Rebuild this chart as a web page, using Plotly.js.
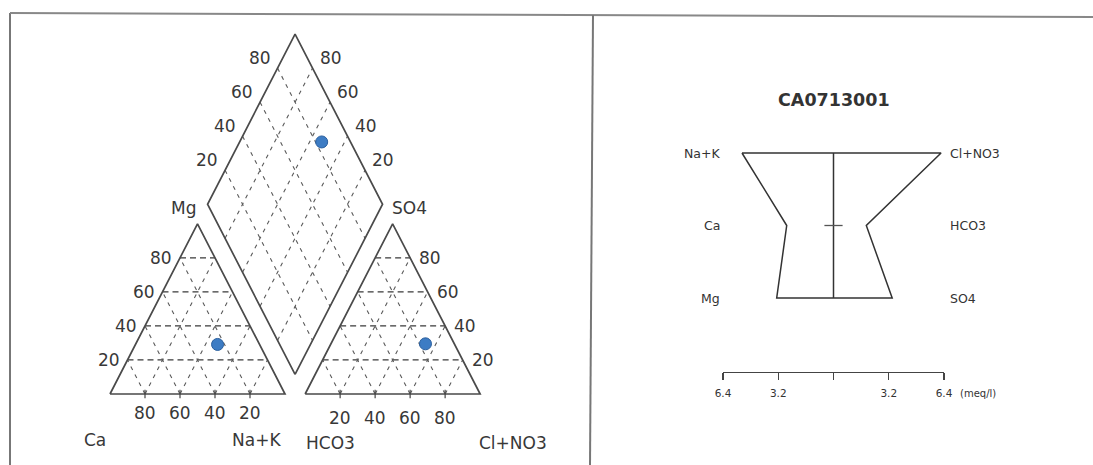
<!DOCTYPE html>
<html>
<head>
<meta charset="utf-8">
<script src="https://cdn.plot.ly/plotly-3.0.1.min.js"></script>
<style>html,body{margin:0;padding:0;background:#fff;}#chart{width:1093px;height:465px;}</style>
</head>
<body>
<div id="chart"></div>
<script>
// ---------------- data ----------------
const sampleName = 'CA0713001';
const cationNames = ['Na+K', 'Ca', 'Mg'];
const cationMeq   = [5.30, 2.71, 3.29];          // meq/l
const anionNames  = ['Cl+NO3', 'HCO3', 'SO4'];
const anionMeq    = [6.23, 1.90, 3.40];          // meq/l
const pctTicks    = [20, 40, 60, 80];
const stiffTickVals = [-6.4, -3.2, 0, 3.2, 6.4];
const stiffTickText = ['6.4', '3.2', '', '3.2', '6.4'];
const stiffUnit = '(meq/l)';

// ---------------- piper geometry ----------------
const S3 = Math.sqrt(3) / 2;
const GAP = 11.5;
const AX = 100 + GAP;
const catXY = (na, mg) => [na + mg / 2, S3 * mg];
const anXY  = (cl, so4) => [AX + cl + so4 / 2, S3 * so4];
const diaXY = (na, a) => [(AX + na + a) / 2, S3 * (AX + a - na)];

function pathOf(pts) { return { x: pts.map(p => p[0]), y: pts.map(p => p[1]) }; }
function segs(list) {
  const o = { x: [], y: [] };
  list.forEach(([p, q]) => { o.x.push(p[0], q[0], null); o.y.push(p[1], q[1], null); });
  return o;
}

const sum = a => a.reduce((s, v) => s + v, 0);
const catTot = sum(cationMeq), anTot = sum(anionMeq);
const naPct = 100 * cationMeq[0] / catTot, caPct = 100 * cationMeq[1] / catTot, mgPct = 100 * cationMeq[2] / catTot;
const clPct = 100 * anionMeq[0] / anTot, hcoPct = 100 * anionMeq[1] / anTot, so4Pct = 100 * anionMeq[2] / anTot;

const OUT = '#4a4a4a', GRID = '#5a5a5a', TXT = '#383838';
const traces = [];

// triangle & diamond outlines
const catOutline = pathOf([catXY(0,0), catXY(100,0), catXY(0,100), catXY(0,0)]);
const anOutline = pathOf([anXY(0,0), anXY(100,0), anXY(0,100), anXY(0,0)]);
const diaOutline = pathOf([diaXY(100,0), diaXY(100,100), diaXY(0,100), diaXY(0,0), diaXY(100,0)]);

// grids
const catH = segs(pctTicks.map(p => [catXY(0,p), catXY(100-p,p)]));
const anH  = segs(pctTicks.map(p => [anXY(0,p), anXY(100-p,p)]));
const catD = segs(pctTicks.flatMap(p => [[catXY(p,0), catXY(p,100-p)], [catXY(100-p,0), catXY(0,100-p)]]));
const anD  = segs(pctTicks.flatMap(p => [[anXY(p,0), anXY(p,100-p)], [anXY(100-p,0), anXY(0,100-p)]]));
const diaG = segs(pctTicks.flatMap(p => [[diaXY(p,0), diaXY(p,100)], [diaXY(0,p), diaXY(100,p)]]));

[catH, anH].forEach(g => traces.push({ type:'scatter', mode:'lines', x:g.x, y:g.y, xaxis:'x', yaxis:'y',
  line:{ color:'#3a3a3a', width:1.2, dash:'6px,4px' }, hoverinfo:'skip' }));
[catD, anD, diaG].forEach(g => traces.push({ type:'scatter', mode:'lines', x:g.x, y:g.y, xaxis:'x', yaxis:'y',
  line:{ color:GRID, width:1.1, dash:'4px,5px' }, hoverinfo:'skip' }));
[catOutline, anOutline, diaOutline].forEach(g => traces.push({ type:'scatter', mode:'lines', x:g.x, y:g.y,
  xaxis:'x', yaxis:'y', line:{ color:OUT, width:1.7 }, hoverinfo:'skip' }));

// base tick marks
const baseTicks = pctTicks.map(p => catXY(p,0)).concat(pctTicks.map(p => anXY(p,0)));
traces.push({ type:'scatter', mode:'markers', x: baseTicks.map(p=>p[0]), y: baseTicks.map(p=>p[1]),
  xaxis:'x', yaxis:'y', marker:{ symbol:'line-ns', size:6, line:{ color:'#444', width:1.2 } }, hoverinfo:'skip' });

// sample points
const pts = [catXY(naPct, mgPct), anXY(clPct, so4Pct), diaXY(naPct, clPct + so4Pct)];
traces.push({ type:'scatter', mode:'markers', x: pts.map(p=>p[0]), y: pts.map(p=>p[1]), xaxis:'x', yaxis:'y',
  marker:{ size:12, color:'#3d7cc4', line:{ color:'#2a5f9e', width:1 } }, name: sampleName });

// ---------------- stiff diagram ----------------
const rowY = cationNames.map((_, i) => cationNames.length - 1 - i);
const stiffX = cationMeq.map(v => -v).concat(anionMeq.slice().reverse(), [-cationMeq[0]]);
const stiffY = rowY.concat(rowY.slice().reverse(), [rowY[0]]);
traces.push({ type:'scatter', mode:'lines', x: stiffX, y: stiffY, xaxis:'x2', yaxis:'y2',
  line:{ color:'#333', width:1.5 }, hoverinfo:'skip' });
traces.push({ type:'scatter', mode:'lines', x:[0,0], y:[Math.min(...rowY), Math.max(...rowY)], xaxis:'x2', yaxis:'y2',
  line:{ color:'#333', width:1.5 }, hoverinfo:'skip' });
traces.push({ type:'scatter', mode:'markers', x:[0], y:[rowY[1]], xaxis:'x2', yaxis:'y2',
  marker:{ symbol:'line-ew', size:13, line:{ color:'#555', width:1.3 } }, hoverinfo:'skip' });

// ---------------- annotations ----------------
const FONT = 'DejaVu Sans, Verdana, sans-serif';
const ann = [];
function A(pos, text, o) {
  ann.push(Object.assign({ x:pos[0], y:pos[1], xref:'x', yref:'y', text:String(text), showarrow:false,
    font:{ family:FONT, size:17, color:TXT }, xanchor:'center', yanchor:'middle' }, o || {}));
}
pctTicks.forEach(p => {
  A(catXY(0,p), p, { xanchor:'right', xshift:-6 });
  A(catXY(100-p,0), p, { yshift:-19 });
  A(anXY(100-p,p), p, { xanchor:'left', xshift:7 });
  A(anXY(p,0), p, { yshift:-24 });
  A(diaXY(0,p), p, { xanchor:'right', xshift:-5, yshift:10 });
  A(diaXY(100-p,100), p, { xanchor:'left', xshift:5, yshift:10 });
});
A(catXY(0,0), cationNames[1], { xshift:-15, yshift:-46 });
A(catXY(100,0), cationNames[0], { xshift:-29, yshift:-46 });
A(catXY(0,100), cationNames[2], { xanchor:'right', xshift:0, yshift:16 });
A(anXY(0,0), anionNames[1], { xshift:25, yshift:-49 });
A(anXY(100,0), anionNames[0], { xshift:33, yshift:-49 });
A(anXY(0,100), anionNames[2], { xanchor:'left', xshift:-3, yshift:16 });

const SF = { family:FONT, size:12.5, color:'#333' };
rowY.forEach((y, i) => {
  ann.push({ x:-6.4, y:y, xref:'x2', yref:'y2', text:cationNames[i], showarrow:false, font:SF,
    xanchor:'right', yanchor:'middle', xshift:-1 });
  ann.push({ x:6.4, y:y, xref:'x2', yref:'y2', text:anionNames[i], showarrow:false, font:SF,
    xanchor:'left', yanchor:'middle', xshift:4 });
});
ann.push({ x:0, y:rowY[0], xref:'x2', yref:'y2', text:'<b>' + sampleName + '</b>', showarrow:false,
  font:{ family:FONT, size:17.5, color:'#333' }, xanchor:'center', yanchor:'middle', yshift:53 });
ann.push({ x:6.4, y:0, xref:'x2', yref:'y2 domain', text:stiffUnit, showarrow:false,
  font:{ family:FONT, size:10, color:'#333' }, xanchor:'left', yanchor:'middle', xshift:14, yshift:-21 });

// ---------------- layout ----------------
const W = 1093, H = 465;
const ox = 110, sx = 1.75, oy = 394, sy = 1.965;
const pxDom = 0.54 * W;
const layout = {
  width:W, height:H, margin:{ l:0, r:0, t:0, b:0 }, paper_bgcolor:'#fff', plot_bgcolor:'rgba(0,0,0,0)',
  showlegend:false,
  xaxis:{ domain:[0, 0.54], range:[(0 - ox) / sx, (pxDom - ox) / sx], visible:false, fixedrange:true },
  yaxis:{ domain:[0, 1], range:[(oy - H) / sy, oy / sy], visible:false, fixedrange:true },
  xaxis2:{ domain:[723 / W, 944 / W], range:[-6.4, 6.4], anchor:'y2', showline:true, linecolor:'#444', linewidth:1.3,
    ticks:'outside', ticklen:7, tickwidth:1.3, tickcolor:'#444', tickvals:stiffTickVals, ticktext:stiffTickText,
    ticklabelstandoff:4,
    showgrid:false, zeroline:false, tickfont:{ family:FONT, size:10.5, color:'#333' }, fixedrange:true },
  yaxis2:{ domain:[0.2, 1 - 90 / H], range:[-(372 - 298) / 72.5, 2 + (153 - 90) / 72.5], anchor:'x2',
    visible:false, fixedrange:true },
  annotations: ann,
  shapes:[
    { type:'line', xref:'paper', yref:'paper', x0:10 / W, x1:10 / W, y0:0, y1:1 - 13 / H, line:{ color:'#777', width:2 } },
    { type:'line', xref:'paper', yref:'paper', x0:10 / W, x1:1, y0:1 - 13 / H, y1:1 - 17 / H, line:{ color:'#888', width:2 } },
    { type:'line', xref:'paper', yref:'paper', x0:593 / W, x1:590 / W, y0:1 - 15 / H, y1:0, line:{ color:'#777', width:2 } }
  ]
};
Plotly.newPlot('chart', traces, layout, { staticPlot:true, displayModeBar:false });
</script>
</body>
</html>
